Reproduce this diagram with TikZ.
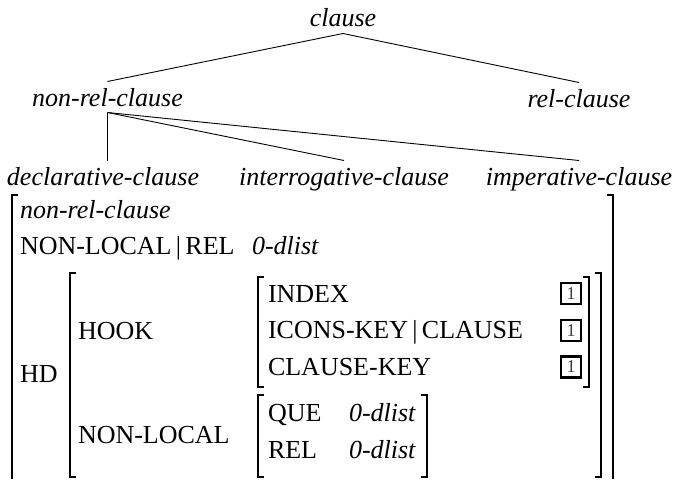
\documentclass[tikz,border=0pt]{standalone}
\usepackage{fontspec}
\setmainfont{Liberation Serif}
\newcommand\avmsize{\fontsize{26}{31}\selectfont}
% left and right brackets of a feature structure: {left x}{right x}{top y}{bottom y}
\newcommand\avmbrackets[4]{%
  \draw[brk] (#1+6,#3) -- (#1,#3) -- (#1,#4) -- (#1+6,#4);
  \draw[brk] (#2-6,#3) -- (#2,#3) -- (#2,#4) -- (#2-6,#4);}
\begin{document}
\begin{tikzpicture}[x=1pt,y=-1pt,
  every node/.style={inner sep=0pt, outer sep=0pt},
  feat/.style={anchor=base west, font=\avmsize},
  val/.style={anchor=base west, font=\avmsize\itshape},
  treenode/.style={anchor=base, font=\avmsize\itshape,
    text height=18pt, text depth=0pt, inner ysep=6.5pt},
  branch/.style={line width=0.9pt},
  brk/.style={line width=1.5pt},
  tagbox/.style={draw, line width=2.6pt, minimum width=20pt, minimum height=21pt,
    font=\fontsize{18}{18}\selectfont, text=black!75}]
\useasboundingbox (0,0) rectangle (677,479);

% type hierarchy
\node[treenode] (clause) at (343,27) {clause};
\node[treenode] (nonrel) at (107.5,106) {non-rel-clause};
\node[treenode] (rel) at (579,107) {rel-clause};
\node[treenode] (decl) at (103,185) {declarative-clause};
\node[treenode] (inter) at (344,185) {interrogative-clause};
\node[treenode] (imper) at (579,185) {imperative-clause};

\draw[branch] (clause.south) -- (nonrel.north);
\draw[branch] (clause.south) -- (rel.north);
\draw[branch] (nonrel.south) -- (nonrel.south |- decl.north);
\draw[branch] (nonrel.south) -- (inter.north);
\draw[branch] (nonrel.south) -- (imper.north);

% outer feature structure (continues below the page)
\draw[brk] (18,195) -- (12,195) -- (12,479);
\draw[brk] (607,195) -- (613,195) -- (613,479);
\node[val] (type) at (20,218) {non-rel-clause};
\node[feat] (nlrel) at (20,254) {NON-LOCAL\,|\,REL};
\node[val] (nlrelv) at (252,254) {0-dlist};

% HD value
\avmbrackets{70}{601}{273}{477}
\node[feat] (hd) at (20,382) {HD};
\node[feat] (hook) at (78,339) {HOOK};
\node[feat] (nonloc) at (78,443) {NON-LOCAL};

% HOOK value
\avmbrackets{258}{589}{277}{387}
\node[feat] (index) at (268,302) {INDEX};
\node[feat] (icons) at (268,338) {ICONS-KEY\,|\,CLAUSE};
\node[feat] (ckey) at (268,375) {CLAUSE-KEY};
\node[tagbox] (tag1) at (571,293.5) {1};
\node[tagbox] (tag2) at (571,330.5) {1};
\node[tagbox] (tag3) at (571,367) {1};

% NON-LOCAL value
\avmbrackets{258}{427}{395}{477}
\node[feat] (que) at (268,421) {QUE};
\node[val] (quev) at (349,421) {0-dlist};
\node[feat] (relf) at (268,458) {REL};
\node[val] (relv) at (349,458) {0-dlist};
\end{tikzpicture}
\end{document}
